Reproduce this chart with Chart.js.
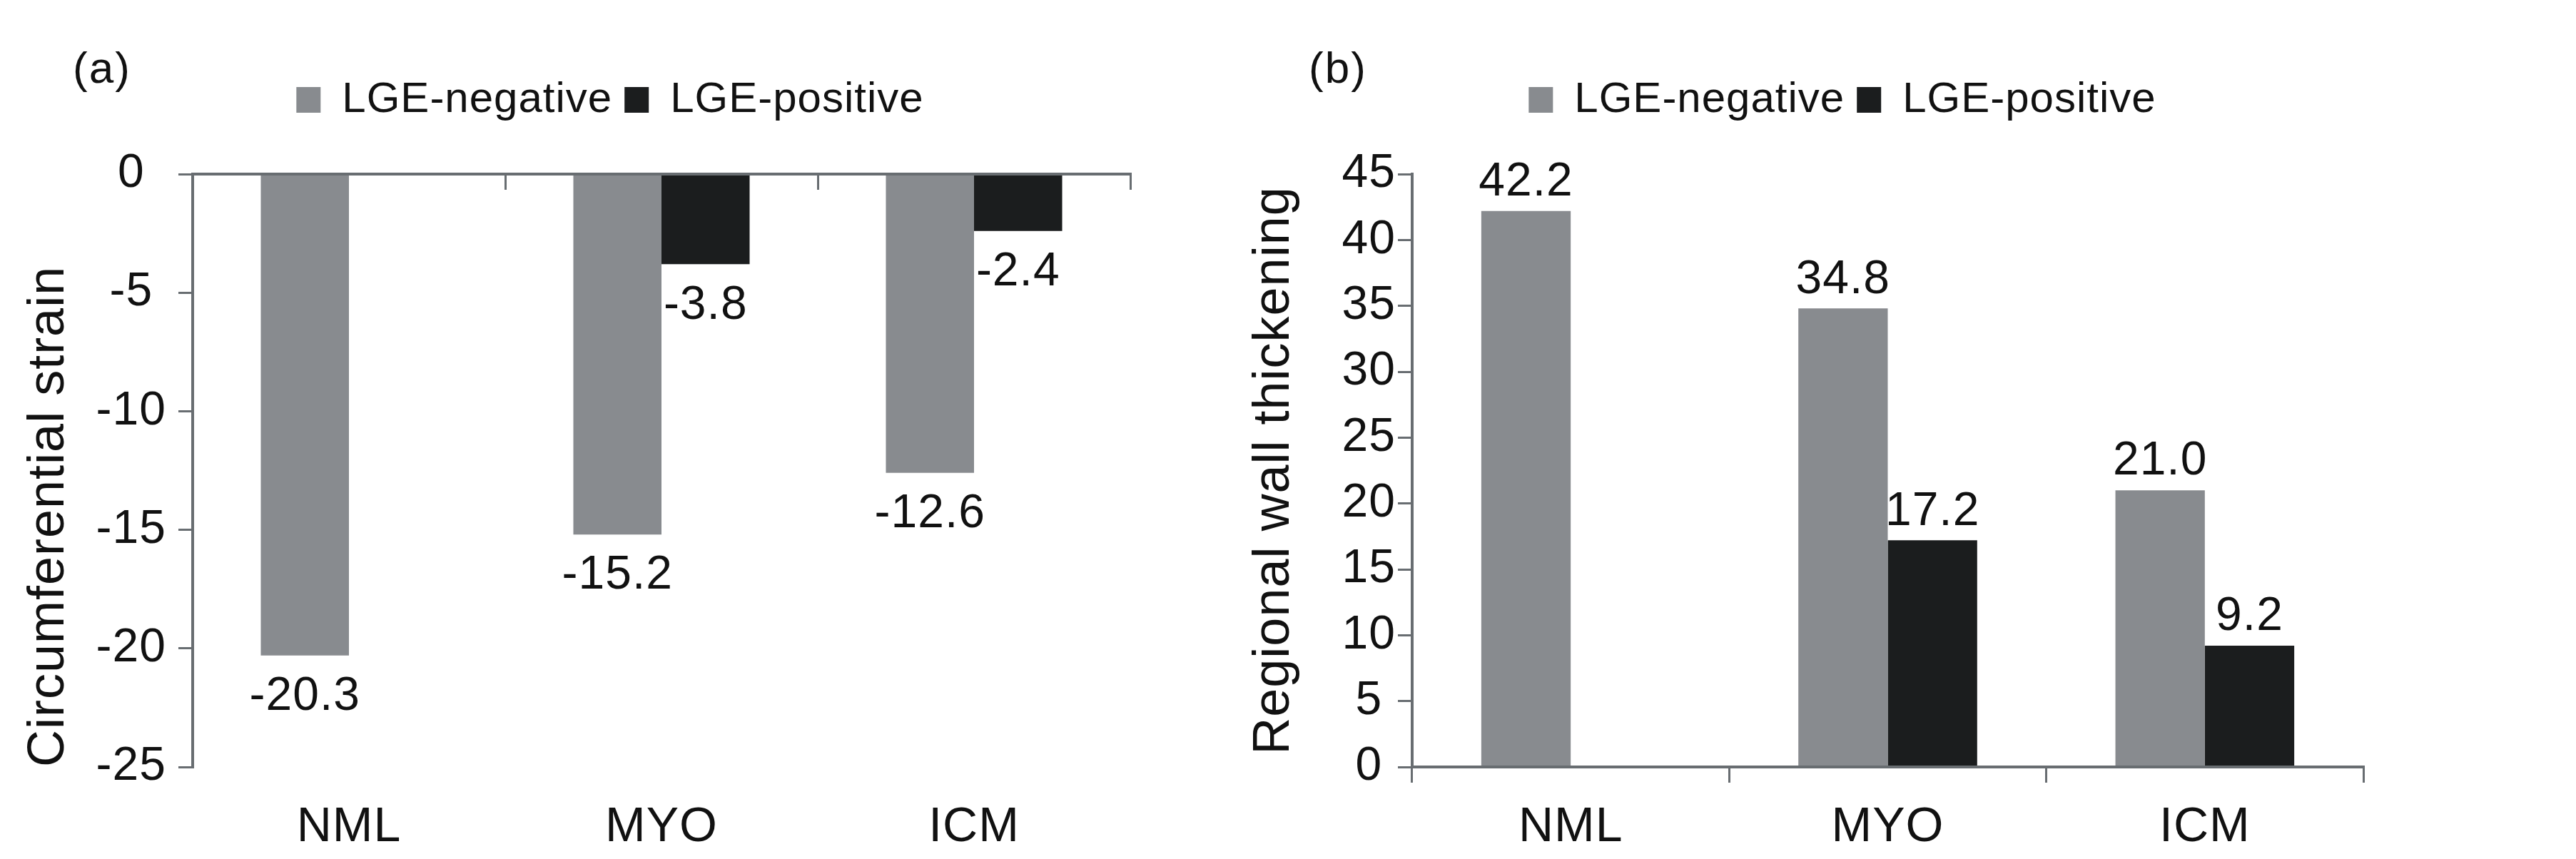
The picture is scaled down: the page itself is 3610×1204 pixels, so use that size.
<!DOCTYPE html>
<html lang="en">
<head>
<meta charset="UTF-8">
<title>Circumferential strain / Regional wall thickening</title>
<script src="https://cdn.jsdelivr.net/npm/chart.js"></script>
<style>
    body { margin: 0; background: #fff; }
    .painel { position: absolute; top: 0; }
    .letra {
        position: absolute; top: 64px;
        font: 62px "Liberation Sans", Arial, sans-serif;
        letter-spacing: 2px; line-height: 1; color: #111;
    }
</style>
</head>
<body>

<div class="painel" style="left:0px"><canvas id="grafA" width="1710" height="1204"></canvas></div>
<div class="painel" style="left:1750px"><canvas id="grafB" width="1662" height="1204"></canvas></div>

<div class="letra" style="left:102px">(a)</div>
<div class="letra" style="left:1834px">(b)</div>

<script>
// dados
const categorias = ['NML', 'MYO', 'ICM'];
const series = ['LGE-negative', 'LGE-positive'];

const strainNegativo = [-20.3, -15.2, -12.6];
const strainPositivo = [null, -3.8, -2.4];

const espessNegativo = [42.2, 34.8, 21.0];
const espessPositivo = [null, 17.2, 9.2];

const cinza = '#888b8f';
const preto = '#1b1d1e';
const corEixo = '#686d71';
const corTexto = '#111';

Chart.defaults.font.family = '"Liberation Sans", Arial, sans-serif';
Chart.defaults.color = corTexto;

// pequeno espaçamento entre letras, como na figura
const espacamento = {
    id: 'espacamento',
    beforeLayout(chart) { chart.ctx.letterSpacing = '1px'; },
    beforeDraw(chart) { chart.ctx.letterSpacing = '1px'; }
};

// valores escritos junto a cada barra
const rotulos = {
    id: 'rotulos',
    afterDatasetsDraw(chart, args, opts) {
        const ctx = chart.ctx;
        ctx.save();
        ctx.font = '66px "Liberation Sans", Arial, sans-serif';
        ctx.fillStyle = corTexto;
        ctx.textAlign = 'center';
        ctx.textBaseline = 'middle';
        chart.data.datasets.forEach(function (ds, i) {
            chart.getDatasetMeta(i).data.forEach(function (barra, j) {
                const v = ds.data[j];
                if (v === null) return;
                const y = v < 0 ? barra.y + opts.distancia : barra.y - opts.distancia;
                ctx.fillText(v.toFixed(1), barra.x, y);
            });
        });
        ctx.restore();
    }
};

function montarGrafico(id, negativo, positivo, cfg) {
    return new Chart(document.getElementById(id), {
        type: 'bar',
        data: {
            labels: categorias,
            datasets: [
                { label: series[0], data: negativo, backgroundColor: cinza, borderWidth: 0, xAxisID: 'x', yAxisID: 'y' },
                { label: series[1], data: positivo, backgroundColor: preto, borderWidth: 0, xAxisID: 'x', yAxisID: 'y' }
            ]
        },
        options: {
            responsive: false,
            animation: false,
            devicePixelRatio: 1,
            categoryPercentage: 0.564,
            barPercentage: 1.0,
            layout: { padding: { top: 93, left: cfg.padEsq, right: cfg.padDir, bottom: 0 } },
            plugins: {
                legend: {
                    position: 'top',
                    align: 'center',
                    labels: { boxWidth: 34, boxHeight: 36, padding: 17, font: { size: 60 }, color: corTexto }
                },
                tooltip: { enabled: false },
                rotulos: { distancia: cfg.distancia }
            },
            scales: {
                x: {
                    type: 'category',
                    position: { y: 0 },
                    offset: true,
                    grid: { display: true, offset: true, drawOnChartArea: false, drawTicks: true, tickLength: 20, color: corEixo, lineWidth: 3 },
                    border: { display: true, color: corEixo, width: 4, z: 1 },
                    ticks: { display: false }
                },
                x2: {
                    type: 'category',
                    position: 'bottom',
                    offset: true,
                    grid: { display: false, drawTicks: false },
                    border: { display: false },
                    ticks: { padding: 44, font: { size: 68 }, color: corTexto },
                    afterFit: function (s) { s.height = 129; }
                },
                topo: {
                    type: 'category',
                    position: 'top',
                    grid: { display: false, drawTicks: false },
                    border: { display: false },
                    ticks: { display: false },
                    afterFit: function (s) { s.height = 64; }
                },
                y: {
                    position: 'left',
                    min: cfg.min,
                    max: cfg.max,
                    ticks: { stepSize: 5, crossAlign: 'center', padding: cfg.padTick, font: { size: 66 }, color: corTexto },
                    grid: { drawOnChartArea: false, drawTicks: true, tickLength: 20, color: corEixo, lineWidth: 3 },
                    border: { display: true, color: corEixo, width: 4, z: 1 },
                    title: {
                        display: true,
                        text: cfg.titulo,
                        align: cfg.alinhar,
                        font: { size: 72 },
                        color: corTexto,
                        padding: { top: cfg.padTitulo, bottom: 0 }
                    },
                    afterFit: function (s) { s.width = cfg.larguraY; }
                }
            }
        },
        plugins: [espacamento, rotulos]
    });
}

const graficoA = montarGrafico('grafA', strainNegativo, strainPositivo, {
    min: -25, max: 0, titulo: 'Circumferential strain', alinhar: 'start',
    padEsq: 126, padDir: 126, larguraY: 144, padTitulo: -100, padTick: 17, distancia: 58
});

const graficoB = montarGrafico('grafB', espessNegativo, espessPositivo, {
    min: 0, max: 45, titulo: 'Regional wall thickening', alinhar: 'center',
    padEsq: 102, padDir: 100, larguraY: 127, padTitulo: -109, padTick: 3, distancia: 40
});
</script>
</body>
</html>
